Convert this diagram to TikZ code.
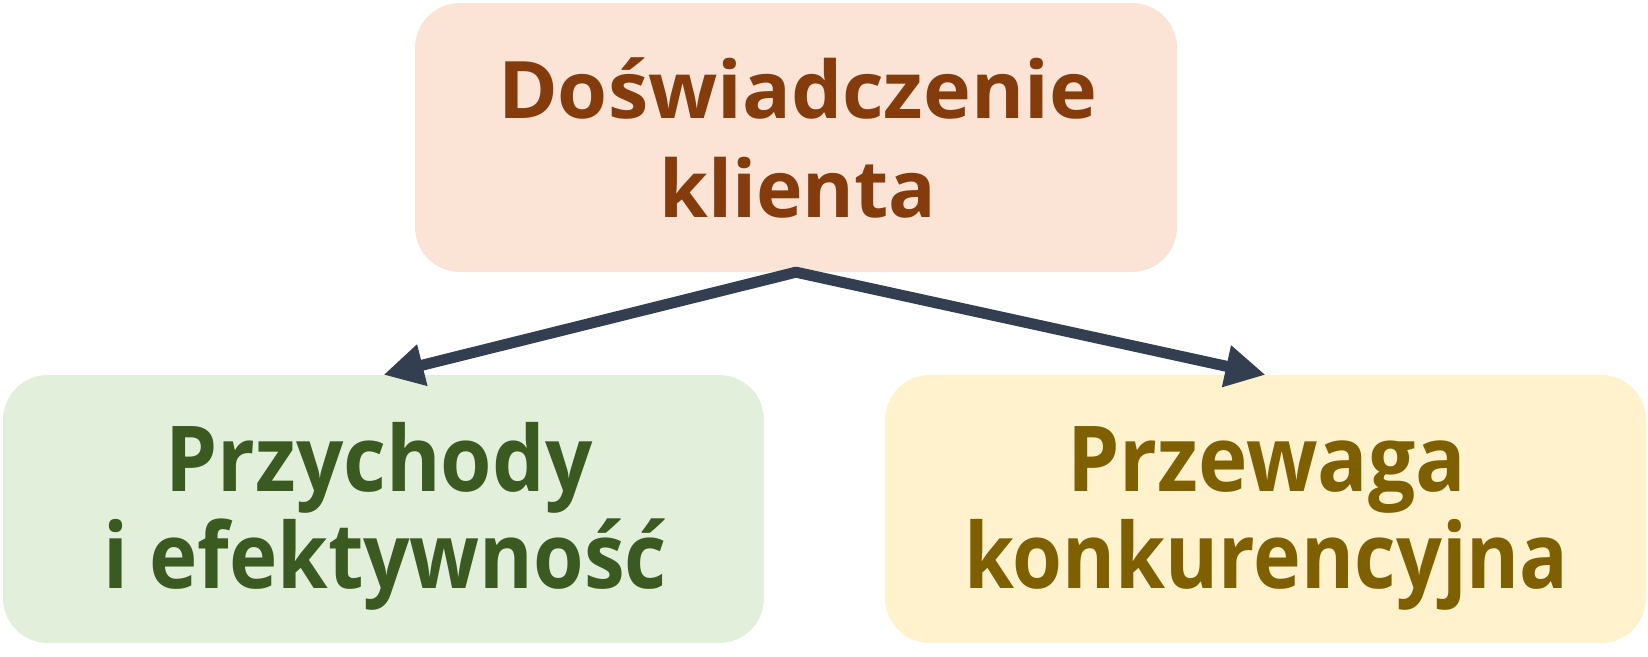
\documentclass[tikz,border=0pt]{standalone}
\usepackage{fontspec}
\setmainfont{Open Sans}
\usetikzlibrary{arrows.meta}
\definecolor{topfill}{HTML}{FBE4D5}
\definecolor{toptext}{HTML}{843C0C}
\definecolor{leftfill}{HTML}{E2EFDA}
\definecolor{lefttext}{HTML}{3B5A22}
\definecolor{rightfill}{HTML}{FFF2CC}
\definecolor{righttext}{HTML}{7F6000}
\definecolor{arrowc}{HTML}{333F50}
\newsavebox\fitbox
\newcommand\fitline[2]{\sbox\fitbox{#2}\pgfmathsetmacro\fitsx{#1/\the\wd\fitbox}\scalebox{\fitsx}[1]{\usebox\fitbox}}
\begin{document}
\begin{tikzpicture}[x=1pt,y=-1pt,
  box/.style={rounded corners=45pt, inner sep=0pt, minimum width=762pt, minimum height=268pt, draw=none},
  linetxt/.style={anchor=base, inner sep=0pt},
  topfont/.style={font=\fontsize{79.4}{95}\selectfont\bfseries},
  botfont/.style={font=\fontsize{91}{100}\selectfont\bfseries},
  conn/.style={draw=arrowc, line width=11pt, line cap=round, -{Triangle[length=40pt,width=40pt]}}]
\fill[white] (0,0) rectangle (1648,656);
\useasboundingbox (0,0) rectangle (1648,656);
% boxes
\node[box, fill=topfill, minimum height=269pt] (top) at (796,137.5) {};
\node[box, fill=leftfill, minimum width=761pt] (left) at (383.5,509) {};
\node[box, fill=rightfill, minimum width=761pt] (right) at (1265.5,509) {};
% texts
\node[linetxt, topfont, text=toptext] (top1) at (797.5,118) {\fitline{599}{Doświadczenie}};
\node[linetxt, topfont, text=toptext] (top2) at (798,217) {\fitline{277}{klienta}};
\node[linetxt, botfont, text=lefttext] (left1) at (379,491) {\fitline{427}{Przychody}};
\node[linetxt, botfont, text=lefttext] (left2) at (385,588) {\fitline{564}{i efektywność}};
\node[linetxt, botfont, text=righttext] (right1) at (1266.5,491) {\fitline{399}{Przewaga}};
\node[linetxt, botfont, text=righttext] (right2) at (1266.5,588) {\fitline{604}{konkurencyjna}};
% connectors
\draw[conn] (top.south) -- (left.north);
\draw[conn] (top.south) -- (right.north);
\end{tikzpicture}
\end{document}
